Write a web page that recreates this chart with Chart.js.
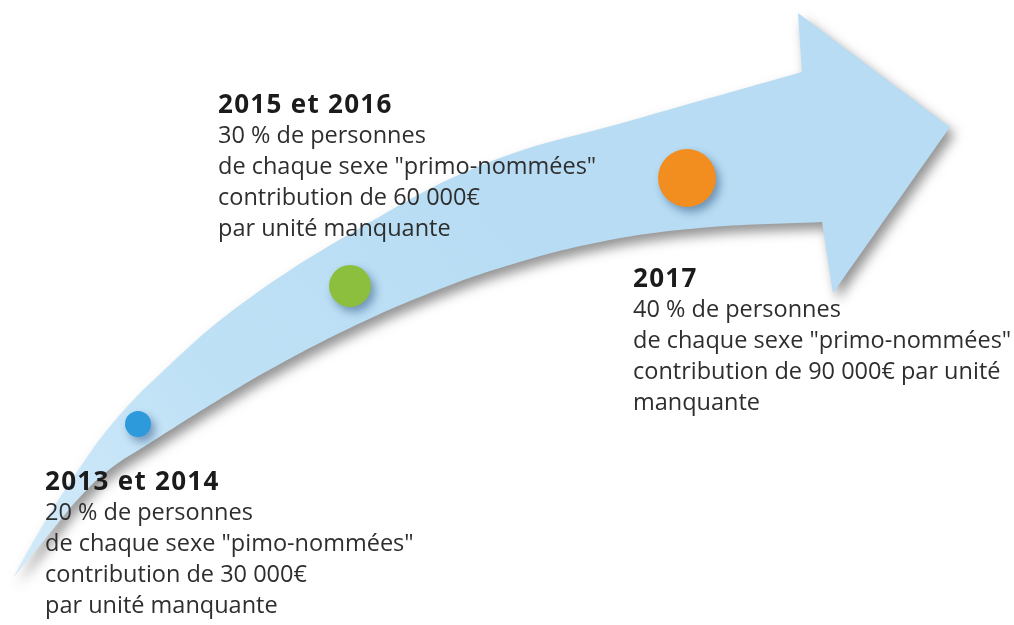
<!DOCTYPE html>
<html lang="fr">
<head>
<meta charset="utf-8">
<title>Quotas de primo-nominations 2013-2017</title>
<script src="https://cdn.jsdelivr.net/npm/chart.js@4.4.1/dist/chart.umd.min.js"></script>
<style>
  html, body { margin: 0; padding: 0; background: #fff; }
  #wrap { position: relative; width: 1014px; height: 625px; overflow: hidden; }
  #frise { position: absolute; left: 0; top: 0; }
  .etape { position: absolute; white-space: nowrap; font-family: "Open Sans", sans-serif; color: #2e2e2e; }
  .etape h2 { margin: 0; font-size: 26px; font-weight: 700; line-height: 31px; letter-spacing: 1.3px; color: #1b1b1b; }
  .etape p { margin: 0; font-size: 23.5px; line-height: 31px; }
</style>
</head>
<body>
<div id="wrap">
  <canvas id="frise" width="1014" height="625"></canvas>
</div>
<script>
// Données
const periodes = ['2013 et 2014', '2015 et 2016', '2017'];
const quotas = [20, 30, 40];                    // % de personnes de chaque sexe
const contributions = [30000, 60000, 90000];    // € par unité manquante
const nominations = ['pimo-nommées', 'primo-nommées', 'primo-nommées'];

// Mise en page (repère 1014 x 625, origine en haut à gauche)
const etapeX = [138, 350, 687];
const etapeY = [424, 286, 178];
const texteX = [45, 218, 633];
const texteY = [465, 88, 262];
const coupureMontant = [true, true, false];
const couleurs = ['#2d9bdb', '#8cbf3e', '#f28e1f'];

// Contour de la flèche
const flecheBordHaut = [[13, 578], [40, 530], [75, 475], [112, 424], [160, 374], [240, 305],
    [360, 228], [487, 163], [633, 120], [802, 72]];
const flecheTete = [[798, 13], [950, 127], [833, 293]];
const flecheBordBas = [[822, 222], [700, 228], [600, 242], [500, 268], [420, 297], [350, 328],
    [280, 364], [220, 399], [150, 443], [110, 469], [80, 497], [50, 533], [28, 560]];

const point = p => ({ x: p[0], y: p[1] });
// un coin est doublé pour rester anguleux malgré la courbure
const coin = p => [point(p), point(p)];

const contour = [
    ...coin(flecheBordHaut[0]),
    ...flecheBordHaut.slice(1, -1).map(point),
    ...coin(flecheBordHaut[flecheBordHaut.length - 1]),
    ...flecheTete.flatMap(coin),
    ...coin(flecheBordBas[0]),
    ...flecheBordBas.slice(1).map(point)
];

const rayon = c => 13 + (c - 30000) * 8 / 30000;
const montant = c => String(c).replace(/\B(?=(\d{3})+(?!\d))/g, '\u00a0') + '€';

const degradeFleche = (context) => {
    const chart = context.chart;
    if (!chart.chartArea) return '#b9ddf3';
    const g = chart.ctx.createLinearGradient(0, chart.chartArea.bottom, 520, 180);
    g.addColorStop(0, '#d6ecfa');
    g.addColorStop(0.45, '#bfe1f6');
    g.addColorStop(1, '#b7dcf3');
    return g;
};

// Ombres portées : flèche puis pastilles
const ombres = {
    id: 'ombres',
    beforeDatasetsDraw(chart) {
        const ctx = chart.ctx;
        ctx.save();
        ctx.shadowColor = 'rgba(40, 40, 40, 0.5)';
        ctx.shadowBlur = 12;
        ctx.shadowOffsetX = 5;
        ctx.shadowOffsetY = 7;
    },
    afterDatasetDraw(chart, args) {
        if (args.index !== 0) return;
        const ctx = chart.ctx;
        ctx.shadowColor = 'rgba(20, 60, 110, 0.45)';
        ctx.shadowBlur = 8;
        ctx.shadowOffsetX = 4;
        ctx.shadowOffsetY = 5;
    },
    afterDatasetsDraw(chart) {
        chart.ctx.restore();
    }
};

const chart = new Chart(document.getElementById('frise'), {
    type: 'bubble',
    data: {
        datasets: [{
            type: 'line',
            label: 'flèche',
            data: contour,
            order: 2,
            showLine: true,
            fill: 'shape',
            tension: 0.4,
            borderWidth: 0,
            pointRadius: 0,
            backgroundColor: degradeFleche
        }, {
            label: 'étapes',
            data: periodes.map((p, i) => ({ x: etapeX[i], y: etapeY[i], r: rayon(contributions[i]) })),
            order: 1,
            backgroundColor: couleurs,
            borderWidth: 0
        }]
    },
    options: {
        responsive: false,
        animation: false,
        events: [],
        layout: { padding: 0, autoPadding: false },
        scales: {
            x: { type: 'linear', min: 0, max: 1014, display: false },
            y: { type: 'linear', min: 0, max: 625, reverse: true, display: false }
        },
        plugins: {
            legend: { display: false },
            tooltip: { enabled: false }
        }
    },
    plugins: [ombres]
});

// Textes des étapes
const wrap = document.getElementById('wrap');
periodes.forEach((periode, i) => {
    const bloc = document.createElement('div');
    bloc.className = 'etape';
    bloc.style.left = chart.scales.x.getPixelForValue(texteX[i]) + 'px';
    bloc.style.top = chart.scales.y.getPixelForValue(texteY[i]) + 'px';

    const titre = document.createElement('h2');
    titre.textContent = periode;
    bloc.appendChild(titre);

    const lignes = [quotas[i] + ' % de personnes', 'de chaque sexe "' + nominations[i] + '"'];
    if (coupureMontant[i]) {
        lignes.push('contribution de ' + montant(contributions[i]), 'par unité manquante');
    } else {
        lignes.push('contribution de ' + montant(contributions[i]) + ' par unité', 'manquante');
    }
    lignes.forEach(texte => {
        const p = document.createElement('p');
        p.textContent = texte;
        bloc.appendChild(p);
    });
    wrap.appendChild(bloc);
});
</script>
</body>
</html>
